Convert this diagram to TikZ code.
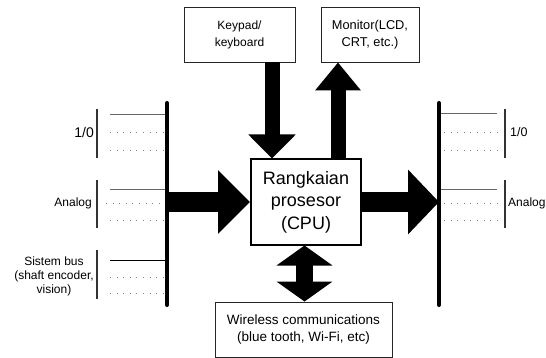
\documentclass[tikz,border=0pt]{standalone}
\usepackage{fontspec}
\setmainfont{Liberation Sans}
\usetikzlibrary{arrows.meta}
\begin{document}
\begin{tikzpicture}[x=1pt,y=-1pt,
  box/.style={draw=black!85,line width=0.9pt,fill=white,inner sep=0pt,align=center},
  cpubox/.style={draw=black,line width=2pt,fill=white,inner sep=0pt,align=center},
  busbar/.style={line width=4pt,line cap=round,black},
  grp/.style={line width=1.2pt,black!80},
  tick/.style={line width=0.9pt,black!60},
  tickdark/.style={line width=0.9pt,black},
  dots/.style={line width=0.7pt,black!50,dash pattern=on 0.8pt off 5.8pt},
  lbl/.style={inner sep=0pt,align=center}
]
\useasboundingbox (0,0) rectangle (546,358);
\fill[white] (0,0) rectangle (546,358);

% buses
\coordinate (lbtop) at (167,103);
\coordinate (lbbot) at (167,305);
\coordinate (rbtop) at (439,103);
\coordinate (rbbot) at (439,305);
\draw[busbar] (lbtop) -- (lbbot);
\draw[busbar] (rbtop) -- (rbbot);

% boxes
\node[cpubox,minimum width=110pt,minimum height=85pt,font=\fontsize{18}{22.5}\selectfont] (cpu) at (306,202) {Rangkaian\\prosesor\\(CPU)};
\node[box,minimum width=111pt,minimum height=55pt,font=\fontsize{12}{17}\selectfont] (key) at (239.5,34.5) {Keypad/\\keyboard};
\node[box,minimum width=98pt,minimum height=55pt,font=\fontsize{12.8}{17}\selectfont] (mon) at (370,34.5) {Monitor(LCD,\\CRT, etc.)};
\node[box,minimum width=177pt,minimum height=55pt,font=\fontsize{13.5}{16.5}\selectfont] (wire) at (303.5,329.5) {Wireless communications\\(blue tooth, Wi-Fi, etc)};

% block arrows
\draw[line width=15pt,-{Triangle[length=24pt,width=46pt]}] ([xshift=32.5pt]key.south) -- ([xshift=-34pt]cpu.north);
\draw[line width=15pt,-{Triangle[length=28pt,width=44pt]}] ([xshift=32pt]cpu.north) -- ([xshift=-32pt]mon.south);
\draw[line width=20pt,-{Triangle[length=32pt,width=62pt]}] (lbtop |- cpu.west) -- (cpu.west);
\draw[line width=20pt,-{Triangle[length=31pt,width=63pt]}] (cpu.east) -- (rbtop |- cpu.east);
\draw[line width=17pt,{Triangle[length=20pt,width=55pt]}-{Triangle[length=20pt,width=55pt]}] ([xshift=-1.5pt]cpu.south) -- ([xshift=1pt]wire.north);

% left groups
\draw[grp] (97,109) -- (97,158);
\draw[grp] (97,180) -- (97,228);
\draw[grp] (97,250) -- (97,299);
\draw[tick] (110,114) -- (165,114);
\draw[dots] (110,132) -- (165,132);
\draw[dots] (110,150) -- (165,150);
\draw[tick] (110,189) -- (165,189);
\draw[dots] (106,203) -- (165,203);
\draw[dots] (110,220) -- (165,220);
\draw[tickdark] (110,260) -- (165,260);
\draw[dots] (110,277) -- (165,277);
\draw[dots] (110,293) -- (165,293);
\node[lbl,anchor=east,font=\fontsize{14}{16}\selectfont] (l1) at (94,132) {1/0};
\node[lbl,anchor=east,font=\fontsize{12}{14}\selectfont] (l2) at (92,203) {Analog};
\node[lbl,font=\fontsize{12}{14}\selectfont] (l3) at (54,276) {Sistem bus\\(shaft encoder,\\vision)};

% right groups
\draw[grp] (505,109) -- (505,158);
\draw[grp] (505,180) -- (505,228);
\draw[tick] (441,113) -- (497,113);
\draw[dots] (444,132) -- (497,132);
\draw[dots] (444,150) -- (497,150);
\draw[tick] (441,189) -- (497,189);
\draw[dots] (444,203) -- (497,203);
\draw[dots] (444,220) -- (497,220);
\node[lbl,anchor=west,font=\fontsize{12.5}{14}\selectfont] (r1) at (510,132) {1/0};
\node[lbl,anchor=west,font=\fontsize{12}{14}\selectfont] (r2) at (508,203) {Analog};
\end{tikzpicture}
\end{document}
